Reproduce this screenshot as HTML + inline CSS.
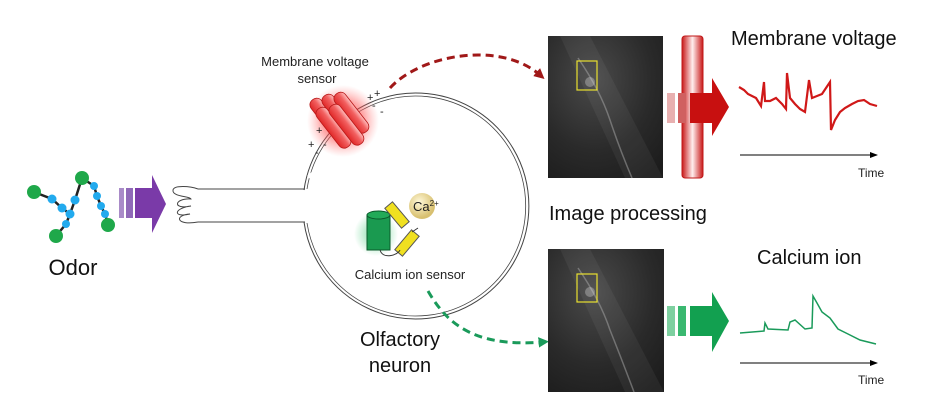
<!DOCTYPE html>
<html><head><meta charset="utf-8"><style>
html,body{margin:0;padding:0;background:#fff;}
svg{display:block;font-family:"Liberation Sans",sans-serif;}
</style></head><body>
<svg width="937" height="420" viewBox="0 0 937 420" xmlns="http://www.w3.org/2000/svg">
<defs>
<radialGradient id="rg" cx="50%" cy="50%" r="50%"><stop offset="0" stop-color="#ff2a2a" stop-opacity="0.9"/><stop offset="0.6" stop-color="#ff5555" stop-opacity="0.5"/><stop offset="1" stop-color="#ff8888" stop-opacity="0"/></radialGradient>
<radialGradient id="gg" cx="50%" cy="50%" r="50%"><stop offset="0" stop-color="#20c060" stop-opacity="0.6"/><stop offset="1" stop-color="#20c060" stop-opacity="0"/></radialGradient>
<radialGradient id="ca" cx="40%" cy="35%" r="60%"><stop offset="0" stop-color="#fff8d8"/><stop offset="1" stop-color="#d8c070"/></radialGradient>
<linearGradient id="bar" x1="0" x2="1"><stop offset="0" stop-color="#c81818"/><stop offset="0.5" stop-color="#ffeeee"/><stop offset="1" stop-color="#c81818"/></linearGradient>
<linearGradient id="cyl" x1="0" x2="1"><stop offset="0" stop-color="#e02828"/><stop offset="0.6" stop-color="#f26060"/><stop offset="1" stop-color="#ffc0c0"/></linearGradient>
<radialGradient id="img" cx="40%" cy="30%" r="85%"><stop offset="0" stop-color="#4a4a4a"/><stop offset="0.6" stop-color="#2a2a2a"/><stop offset="1" stop-color="#1c1c1c"/></radialGradient>
<marker id="ar" markerWidth="3.5" markerHeight="3.5" refX="1.5" refY="1.75" orient="auto"><path d="M0,0 L3.5,1.75 L0,3.5 Z" fill="#a01818"/></marker>
<marker id="ag" markerWidth="3.5" markerHeight="3.5" refX="1.5" refY="1.75" orient="auto"><path d="M0,0 L3.5,1.75 L0,3.5 Z" fill="#1a9a5a"/></marker>
<marker id="ak" markerWidth="8" markerHeight="6" refX="7" refY="3" orient="auto"><path d="M0,0 L8,3 L0,6 Z" fill="#000"/></marker>
</defs>

<!-- molecule -->
<g stroke="#222" stroke-width="2.5">
<polyline points="34,192 52,199 62,208 70,214 66,224 56,236" fill="none"/>
<polyline points="70,214 75,200 82,178 94,186 97,196 101,206 105,214 108,224" fill="none"/>
</g>
<g fill="#22aaee">
<circle cx="52" cy="199" r="4.5"/><circle cx="62" cy="208" r="4.5"/><circle cx="70" cy="214" r="4.5"/><circle cx="66" cy="224" r="4"/><circle cx="75" cy="200" r="4.5"/><circle cx="94" cy="186" r="4"/><circle cx="97" cy="196" r="4"/><circle cx="101" cy="206" r="4"/><circle cx="105" cy="214" r="4"/>
</g>
<g fill="#1fa84a"><circle cx="34" cy="192" r="7"/><circle cx="56" cy="236" r="7"/><circle cx="82" cy="178" r="7"/><circle cx="108" cy="225" r="7"/></g>
<text x="73" y="275" font-size="22" text-anchor="middle" fill="#111">Odor</text>

<!-- purple arrow -->
<rect x="119" y="188" width="5" height="30" fill="#a98bc8"/>
<rect x="126" y="188" width="7" height="30" fill="#9069b8"/>
<path d="M135,188 H152 V175 L166,204 L152,233 V218 H135 Z" fill="#7a3aa8"/>

<!-- neuron -->
<g fill="none" stroke="#444" stroke-width="1">
<path d="M304,190 A113,113 0 1 1 304,222" />
<path d="M307,189 A110,110 0 1 1 307,223" stroke-width="0.8"/>
</g>
<rect x="300" y="150" width="78" height="6" fill="#fff" transform="rotate(-40 339 153)"/>
<path d="M198,189 H305 M198,222 H305" stroke="#444" fill="none"/>
<path d="M198,189 C190,186 174,185 173,190 C172,197 190,196 191,199 C174,198 172,210 191,206 C174,208 172,218 190,214 C174,215 176,226 198,222" fill="#fff" stroke="#444"/>

<!-- red sensor -->
<circle cx="343" cy="121" r="36" fill="url(#rg)"/>
<g stroke="#b81818" stroke-width="0.8" fill="url(#cyl)">
<rect x="321" y="95" width="13" height="48" rx="6" transform="rotate(-38 327 119)"/>
<rect x="333" y="91" width="13" height="48" rx="6" transform="rotate(-38 339 115)"/>
<rect x="345" y="89" width="13" height="48" rx="6" transform="rotate(-38 351 113)"/>
<rect x="327" y="104" width="13" height="48" rx="6" transform="rotate(-38 333 128)"/>
<rect x="340" y="101" width="13" height="48" rx="6" transform="rotate(-38 346 125)"/>
</g>
<g font-size="11" fill="#222"><text x="367" y="101">+</text><text x="374" y="97">+</text><text x="372" y="109">-</text><text x="380" y="115">-</text><text x="316" y="134">+</text><text x="308" y="148">+</text><text x="323" y="148">-</text><text x="315" y="156">-</text></g>
<text x="315" y="66" font-size="13" text-anchor="middle" fill="#222">Membrane voltage</text>
<text x="317" y="83" font-size="13" text-anchor="middle" fill="#222">sensor</text>

<!-- calcium sensor -->
<circle cx="376" cy="234" r="22" fill="url(#gg)"/>
<rect x="367" y="215" width="23" height="35" fill="#1a9a50" stroke="#0a5a2a"/>
<ellipse cx="378.5" cy="215" rx="11.5" ry="4" fill="#22aa58" stroke="#0a5a2a"/>
<rect x="392" y="202" width="10" height="26" fill="#f0e020" stroke="#555" transform="rotate(-40 397 215)"/>
<rect x="402" y="230" width="10" height="26" fill="#f0e020" stroke="#555" transform="rotate(40 407 243)"/>
<path d="M380,250 C383,260 398,255 400,250 M412,232 L418,228" stroke="#333" fill="none"/>
<circle cx="422" cy="206" r="13" fill="url(#ca)"/>
<text x="413" y="211" font-size="13" fill="#222">Ca<tspan font-size="8" dy="-5">2+</tspan></text>
<text x="410" y="279" font-size="13" text-anchor="middle" fill="#222">Calcium ion sensor</text>
<text x="400" y="346" font-size="20" text-anchor="middle" fill="#111">Olfactory</text>
<text x="400" y="372" font-size="20" text-anchor="middle" fill="#111">neuron</text>

<!-- dashed connectors -->
<path d="M390,88 C420,55 500,40 540,75" stroke="#a01818" stroke-width="3" fill="none" stroke-dasharray="8,5" marker-end="url(#ar)"/>
<path d="M428,291 C445,320 470,348 543,342" stroke="#1a9a5a" stroke-width="3" fill="none" stroke-dasharray="8,5" marker-end="url(#ag)"/>

<!-- images -->
<rect x="548" y="36" width="115" height="142" fill="url(#img)"/>
<path d="M560,36 L625,178 L663,178 L590,36 Z" fill="#fff" opacity="0.05"/>
<path d="M578,58 Q600,90 610,120 Q620,150 632,178" stroke="#aaa" stroke-width="1.5" fill="none" opacity="0.5"/>
<circle cx="590" cy="82" r="5" fill="#ddd" opacity="0.35"/>
<rect x="577" y="61" width="20" height="29" fill="none" stroke="#e8e030" stroke-width="1.2"/>
<rect x="548" y="249" width="116" height="143" fill="url(#img)"/>
<path d="M560,249 L625,392 L664,392 L590,249 Z" fill="#fff" opacity="0.05"/>
<path d="M578,268 Q600,300 610,330 Q622,360 634,392" stroke="#aaa" stroke-width="1.5" fill="none" opacity="0.5"/>
<circle cx="590" cy="292" r="5" fill="#ddd" opacity="0.35"/>
<rect x="577" y="274" width="20" height="28" fill="none" stroke="#e8e030" stroke-width="1.2"/>
<text x="549" y="220" font-size="20" fill="#111">Image processing</text>

<!-- red arrow -->
<rect x="682" y="36" width="21" height="142" rx="3" fill="url(#bar)" stroke="#c01818"/>
<rect x="667" y="93" width="8" height="30" fill="#e8b0b0"/>
<rect x="678" y="93" width="8" height="30" fill="#d06060"/>
<path d="M690,93 H712 V78 L729,107 L712,136 V123 H690 Z" fill="#c81010"/>
<text x="731" y="45" font-size="20" fill="#111">Membrane voltage</text>
<polyline points="739,87 744,90 748,94 752,96 756,98 761,106 764,82 765,101 770,101 776,98 782,104 786,109 787,73 790,98 795,104 800,109 805,112 809,80 812,98 817,96 822,94 826,88 830,82 831,130 835,120 840,112 845,108 852,104 858,101 864,100 870,104 877,106" fill="none" stroke="#d01818" stroke-width="2.2"/>
<line x1="740" y1="155" x2="877" y2="155" stroke="#000" stroke-width="1" marker-end="url(#ak)"/>
<text x="858" y="177" font-size="12" fill="#222">Time</text>

<!-- green arrow -->
<rect x="667" y="306" width="8" height="30" fill="#7ed0a0"/>
<rect x="678" y="306" width="8" height="30" fill="#3ab870"/>
<path d="M690,306 H712 V292 L729,321 L712,352 V336 H690 Z" fill="#12a050"/>
<text x="757" y="264" font-size="20" fill="#111">Calcium ion</text>
<polyline points="740,333 764,331 765,323 768,329 788,330 790,322 795,320 805,329 812,328 813,296 817,303 822,312 830,318 838,329 848,334 860,340 876,344" fill="none" stroke="#1a9a5a" stroke-width="1.5"/>
<line x1="740" y1="363" x2="877" y2="363" stroke="#000" stroke-width="1" marker-end="url(#ak)"/>
<text x="858" y="384" font-size="12" fill="#222">Time</text>
</svg>
</body></html>
